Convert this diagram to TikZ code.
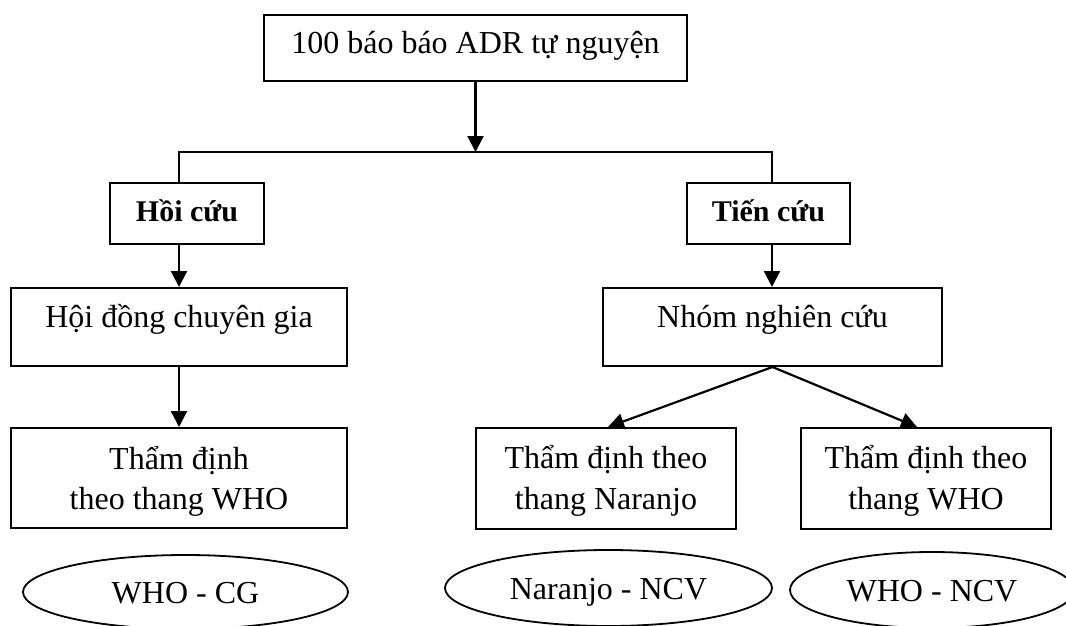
\documentclass[tikz,border=0pt]{standalone}
\usepackage{fontspec}
\setmainfont{Liberation Serif}
\usetikzlibrary{arrows.meta,calc,shapes.geometric}
\begin{document}
\begin{tikzpicture}[x=1pt,y=-1pt,
  box/.style={draw,line width=2pt,rectangle,inner sep=0pt},
  oval/.style={draw,line width=1.8pt,ellipse,inner sep=0pt,text height=22pt,text depth=0pt,font=\fontsize{32}{38}\selectfont},
  txt/.style={inner sep=0pt,font=\fontsize{32}{38}\selectfont},
  btxt/.style={inner sep=0pt,font=\fontsize{30}{36}\selectfont\bfseries},
  conn/.style={line width=2.2pt},
  arr/.style={conn,-{Triangle[length=16pt,width=16pt]}}]
\useasboundingbox (0,0) rectangle (1066,626);
\clip (0,0) rectangle (1066,626);
% top
\node[box,minimum width=423pt,minimum height=66pt] (top) at (475.5,48) {};
\node[txt,anchor=base] (toptxt) at ($(top.north)+(0,40)$) {100 báo báo ADR tự nguyện};
\coordinate (j) at (475.5,152);
\coordinate (L) at (179,152);
\coordinate (R) at (772,152);
% level 2
\node[box,minimum width=154pt,minimum height=61pt] (hoi) at (187,213.5) {};
\node[btxt,anchor=base] (hoitxt) at ($(hoi.north)+(0,39)$) {Hồi cứu};
\node[box,minimum width=163pt,minimum height=61pt] (tien) at (768.5,213.5) {};
\node[btxt,anchor=base] (tientxt) at ($(tien.north)+(0,39)$) {Tiến cứu};
% level 3
\node[box,minimum width=336pt,minimum height=78pt] (hd) at (179,327) {};
\node[txt,anchor=base] (hdtxt) at ($(hd.north)+(0,40)$) {Hội đồng chuyên gia};
\node[box,minimum width=339pt,minimum height=78pt] (nhom) at (772.5,327) {};
\node[txt,anchor=base] (nhomtxt) at ($(nhom.north)+(0,40)$) {Nhóm nghiên cứu};
% level 4
\node[box,minimum width=336pt,minimum height=100pt] (td1) at (179,478) {};
\node[txt,anchor=base] (td1a) at ($(td1.north)+(0,42)$) {Thẩm định};
\node[txt,anchor=base] (td1b) at ($(td1.north)+(0,82)$) {theo thang WHO};
\node[box,minimum width=260pt,minimum height=101pt] (td2) at (606,478.5) {};
\node[txt,anchor=base] (td2a) at ($(td2.north)+(0,41)$) {Thẩm định theo};
\node[txt,anchor=base] (td2b) at ($(td2.north)+(0,82)$) {thang Naranjo};
\node[box,minimum width=250pt,minimum height=101pt] (td3) at (926,478.5) {};
\node[txt,anchor=base] (td3a) at ($(td3.north)+(0,41)$) {Thẩm định theo};
\node[txt,anchor=base] (td3b) at ($(td3.north)+(0,82)$) {thang WHO};
% ellipses
\node[oval,minimum width=325pt,minimum height=74pt] (e1) at (185.5,592) {WHO - CG};
\node[oval,minimum width=327pt,minimum height=76pt] (e2) at (608.5,588) {Naranjo - NCV};
\node[oval,minimum width=284pt,minimum height=76pt] (e3) at (932,590) {WHO - NCV};
% connectors
\draw[arr] (top.south) -- (j);
\draw[conn] (L |- hoi.north) -- (L) -- (R) -- (R |- tien.north);
\draw[arr] (hoi.south -| L) -- (L |- hd.north);
\draw[arr] (tien.south -| R) -- (R |- nhom.north);
\draw[arr] (hd.south) -- (td1.north);
\draw[arr] (nhom.south) -- ($(td2.north)+(2,0)$);
\draw[arr] (nhom.south) -- ($(td3.north)+(-9,0)$);
\end{tikzpicture}
\end{document}
